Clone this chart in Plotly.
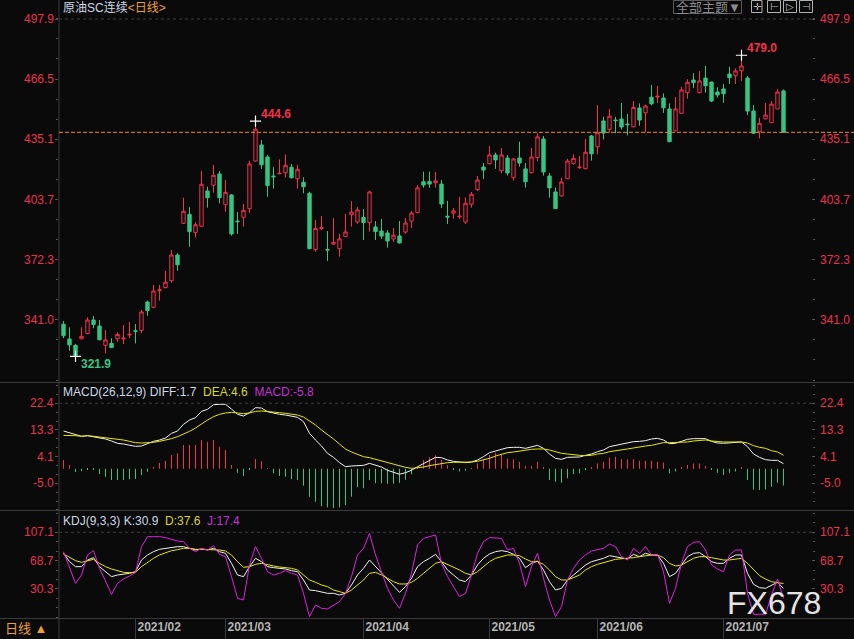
import plotly.graph_objects as go

# 原油SC连续 daily bars, one entry per trading day (Jan 2021 .. Jul 2021)
opens = [338.7, 331.0, 327.7, 331.1, 333.8, 340.9, 337.8, 327.7, 328.7, 331.1,
         331.0, 333.1, 335.3, 335.5, 350.3, 347.5, 356.2, 357.8, 361.4, 374.8,
         391.3, 396.0, 386.6, 389.8, 408.2, 411.2, 417.1, 401.0, 406.1, 392.5,
         394.5, 399.0, 423.8, 432.2, 425.9, 416.0, 417.2, 417.7, 420.6, 414.6,
         412.7, 407.0, 377.6, 388.7, 377.7, 380.5, 378.1, 384.4, 395.8, 392.0,
         394.5, 391.7, 389.4, 387.3, 386.3, 383.2, 384.7, 386.8, 392.5, 396.9,
         413.0, 413.2, 412.5, 411.8, 395.0, 396.6, 394.7, 392.0, 401.3, 408.9,
         420.7, 422.4, 427.0, 418.8, 425.4, 415.1, 425.4, 419.7, 417.7, 425.6,
         435.3, 416.0, 407.7, 405.6, 414.6, 422.6, 420.3, 419.8, 436.9, 431.3,
         444.7, 440.3, 445.2, 445.7, 443.1, 441.7, 451.5, 449.0, 457.1, 457.2,
         456.7, 451.0, 439.6, 448.7, 459.5, 466.1, 459.5, 467.1, 465.0, 459.8,
         461.4, 469.2, 468.3, 470.9, 467.1, 449.9, 439.1, 445.8, 443.8, 451.0,
         460.4]
highs = [340.4, 337.1, 328.4, 337.1, 342.3, 343.0, 340.9, 335.7, 331.4, 334.5,
         338.3, 339.9, 338.8, 346.1, 351.0, 359.2, 359.2, 366.5, 377.4, 375.7,
         404.7, 399.7, 391.9, 418.6, 410.4, 421.8, 418.6, 413.9, 406.6, 397.2,
         401.4, 424.0, 444.6, 434.8, 427.0, 420.6, 424.7, 427.3, 422.3, 421.9,
         415.3, 407.8, 393.1, 395.1, 387.3, 394.1, 385.8, 396.2, 402.9, 399.8,
         398.8, 408.3, 392.5, 393.6, 387.8, 388.9, 392.5, 394.1, 397.8, 411.3,
         418.3, 418.3, 418.1, 413.9, 403.1, 399.3, 405.2, 404.9, 407.7, 416.0,
         422.8, 431.7, 428.2, 430.6, 427.0, 425.4, 433.9, 422.8, 430.6, 438.3,
         436.9, 417.6, 410.1, 415.0, 425.0, 427.3, 426.4, 435.3, 437.4, 453.0,
         446.9, 451.0, 446.9, 454.1, 448.4, 455.1, 453.9, 453.2, 463.5, 463.0,
         459.1, 453.9, 457.2, 462.6, 466.5, 469.6, 470.8, 473.4, 465.3, 462.3,
         464.0, 473.0, 472.2, 479.0, 468.2, 453.0, 446.4, 454.1, 455.1, 461.5,
         461.1]
lows = [331.4, 324.9, 321.9, 330.8, 333.5, 336.6, 330.3, 323.5, 326.2, 329.6,
        328.4, 331.4, 328.7, 334.0, 343.1, 347.0, 351.0, 357.4, 360.4, 366.6,
        391.0, 379.1, 384.0, 389.5, 399.5, 407.3, 401.8, 397.4, 384.9, 385.8,
        389.6, 396.6, 423.5, 419.7, 405.2, 409.4, 417.0, 415.1, 414.8, 409.4,
        407.0, 377.8, 376.4, 387.8, 371.7, 380.0, 373.9, 384.1, 389.6, 391.1,
        382.6, 387.0, 382.6, 383.2, 378.6, 381.6, 380.8, 385.8, 388.9, 396.6,
        409.9, 409.9, 409.9, 399.3, 391.0, 393.7, 393.7, 391.0, 399.5, 408.2,
        414.4, 422.1, 419.7, 417.4, 416.2, 413.6, 420.9, 409.9, 417.4, 423.7,
        416.2, 404.7, 398.7, 405.2, 414.4, 421.9, 419.8, 419.6, 424.0, 427.3,
        435.1, 438.6, 438.3, 440.2, 437.2, 441.4, 442.2, 438.8, 452.9, 454.2,
        448.9, 433.6, 439.4, 448.5, 456.3, 461.9, 459.2, 459.5, 454.6, 456.9,
        454.2, 464.0, 464.0, 465.6, 447.8, 437.9, 435.6, 445.6, 443.6, 450.8,
        438.6]
closes = [332.7, 327.9, 322.3, 332.4, 340.9, 338.5, 330.6, 330.5, 326.5, 333.4,
          331.4, 333.4, 335.0, 345.1, 345.8, 356.0, 356.6, 360.6, 374.8, 369.7,
          397.6, 387.0, 390.6, 411.7, 404.7, 416.4, 404.7, 407.5, 385.8, 392.2,
          398.1, 422.3, 440.4, 421.9, 411.0, 415.6, 417.4, 421.6, 415.1, 419.5,
          410.4, 378.1, 388.7, 389.0, 377.4, 381.4, 383.2, 386.8, 397.2, 398.3,
          391.7, 407.7, 387.0, 384.7, 382.1, 385.1, 381.1, 391.5, 396.7, 409.8,
          411.3, 411.8, 413.4, 401.4, 394.6, 397.8, 395.0, 401.8, 406.5, 413.9,
          419.1, 427.0, 424.4, 427.0, 417.6, 424.9, 422.8, 413.0, 425.9, 436.4,
          418.1, 409.8, 399.0, 412.9, 423.8, 425.2, 420.6, 428.4, 427.6, 438.6,
          438.4, 447.2, 444.9, 441.6, 442.8, 451.8, 445.2, 452.5, 453.7, 457.6,
          451.6, 433.9, 451.0, 460.9, 464.9, 464.7, 465.6, 463.1, 455.1, 458.3,
          458.9, 467.3, 470.8, 473.4, 449.9, 438.3, 443.5, 447.8, 453.5, 459.8,
          438.8]

# MACD(26,12,9)
diff = [12.91, 12.34, 11.77, 11.08, 11.30, 10.97, 10.74, 10.17, 9.48, 8.68,
        8.45, 8.11, 7.65, 7.77, 8.57, 9.37, 9.82, 10.51, 12.11, 12.91,
        15.19, 16.67, 17.47, 19.64, 20.33, 21.93, 22.04, 22.04, 20.44, 18.62,
        18.04, 19.19, 20.90, 20.78, 19.53, 18.96, 18.62, 18.39, 17.93, 17.59,
        16.10, 12.11, 9.82, 7.77, 5.26, 3.89, 2.06, 0.69, 0.92, 1.15,
        1.15, 1.83, 1.26, 0.58, -0.56, -1.25, -1.90, -1.36, -0.55, 0.65,
        1.83, 2.98, 3.89, 3.78, 2.98, 2.52, 2.18, 2.07, 2.29, 2.98,
        4.12, 5.49, 6.06, 6.63, 7.20, 7.32, 7.32, 6.97, 7.54, 8.00,
        6.97, 5.03, 3.55, 3.20, 3.89, 4.01, 4.01, 4.58, 5.03, 5.83,
        6.40, 7.54, 8.00, 8.23, 8.69, 9.26, 9.37, 9.60, 10.17, 10.40,
        9.83, 8.57, 8.69, 9.37, 10.06, 10.29, 10.40, 10.29, 9.37, 8.80,
        8.69, 8.92, 9.03, 9.15, 7.54, 5.03, 3.89, 3.09, 2.86, 2.86,
        1.7]
dea = [11.42, 11.42, 11.30, 11.10, 11.30, 11.10, 10.85, 10.62, 10.40, 10.05,
       9.82, 9.37, 8.91, 8.80, 8.80, 9.03, 9.37, 9.71, 10.28, 10.97,
       11.77, 12.79, 13.93, 15.42, 16.67, 17.82, 18.62, 19.07, 19.30, 19.07,
       18.84, 19.07, 19.64, 19.76, 19.64, 19.41, 19.19, 18.96, 18.73, 18.39,
       17.70, 16.45, 14.96, 13.25, 11.77, 10.17, 8.45, 6.74, 5.71, 4.80,
       4.12, 3.77, 3.20, 2.75, 2.29, 1.72, 1.03, 0.46, 0.12, 0.25,
       0.58, 1.04, 1.38, 1.84, 2.07, 2.18, 2.18, 2.18, 2.29, 2.52,
       2.98, 3.55, 4.35, 5.03, 5.49, 5.72, 6.06, 6.40, 6.63, 6.75,
       6.75, 6.40, 5.72, 5.26, 5.03, 4.69, 4.58, 4.46, 4.58, 5.03,
       5.26, 5.83, 6.06, 6.40, 6.75, 7.09, 7.54, 7.77, 8.00, 8.35,
       8.92, 8.92, 8.92, 9.03, 9.15, 9.49, 9.60, 9.83, 9.49, 9.26,
       9.15, 9.15, 9.15, 9.15, 8.80, 7.89, 7.32, 6.97, 6.17, 5.72,
       4.6]
macd_bar = [2.97, 1.26, -1.14, -0.91, -0.34, -0.22, -1.82, -2.73, -3.88, -3.88,
            -3.88, -3.65, -3.53, -2.16, -1.02, 0.69, 2.06, 2.75, 4.69, 5.26,
            8.11, 8.11, 8.11, 9.82, 9.25, 9.82, 7.54, 6.40, 1.26, -1.36,
            -2.51, -0.22, 3.32, 2.52, 0.09, -1.59, -2.51, -2.73, -3.65, -3.88,
            -5.82, -9.58, -11.30, -12.90, -13.20, -13.50, -13.30, -12.50, -9.58, -6.40,
            -6.70, -3.90, -5.00, -5.00, -5.20, -5.20, -4.80, -3.80, -1.90, 0.60,
            2.97, 3.90, 4.60, 3.00, 1.25, -0.46, -1.00, -0.70, 0.20, 1.80,
            3.20, 4.70, 5.50, 5.00, 3.50, 3.20, 2.40, 0.90, 0.90, 2.40,
            0.50, -3.90, -4.50, -4.80, -3.30, -1.80, -1.60, -0.50, 0.50, 1.80,
            2.40, 3.80, 4.10, 3.20, 3.20, 3.20, 2.70, 2.70, 2.70, 2.40,
            2.10, -1.60, -1.00, 0.30, 1.30, 1.80, 1.80, 0.90, -0.20, -1.40,
            -2.20, -1.40, -1.00, 0.50, -3.90, -7.10, -7.30, -7.10, -6.20, -4.80,
            -5.8]

# KDJ(9,3,3)
k_line = [78.57, 67.26, 60.48, 60.48, 69.52, 72.69, 60.48, 53.69, 46.91, 49.17,
          50.07, 51.43, 53.69, 69.52, 76.31, 80.83, 84.00, 85.35, 86.26, 87.60,
          87.60, 85.35, 83.09, 84.45, 83.09, 85.35, 80.83, 78.57, 65.00, 49.17,
          46.91, 60.48, 71.78, 67.26, 60.48, 59.12, 58.21, 57.31, 55.05, 53.69,
          42.38, 28.81, 27.91, 25.65, 24.29, 24.29, 22.03, 24.29, 35.60, 49.17,
          58.21, 69.52, 60.48, 51.43, 42.38, 33.34, 25.65, 33.34, 44.64, 60.48,
          67.26, 71.78, 77.21, 67.26, 55.95, 49.17, 42.38, 40.12, 49.17, 62.74,
          71.78, 77.66, 80.83, 82.19, 80.83, 77.21, 71.78, 59.12, 65.00, 68.16,
          55.95, 40.12, 28.81, 31.08, 42.38, 49.17, 55.95, 62.74, 67.26, 69.52,
          71.78, 75.40, 74.04, 71.78, 70.88, 77.21, 74.04, 78.57, 76.31, 76.31,
          65.00, 46.91, 51.43, 62.74, 74.04, 78.57, 79.47, 74.04, 67.26, 65.00,
          65.00, 71.78, 76.31, 76.31, 51.43, 36.50, 31.98, 31.08, 34.70, 39.22,
          30.9]
d_line = [77.66, 72.69, 68.62, 66.35, 68.16, 70.43, 65.00, 60.48, 57.31, 54.60,
          52.79, 52.34, 52.79, 60.48, 66.35, 71.78, 76.31, 79.47, 82.19, 83.54,
          85.35, 85.35, 84.00, 84.00, 84.00, 84.00, 83.09, 81.73, 76.31, 67.26,
          59.57, 60.48, 63.64, 65.00, 62.74, 61.38, 60.02, 59.12, 58.21, 55.95,
          49.17, 42.38, 39.22, 35.60, 33.34, 28.81, 26.55, 24.29, 28.81, 35.60,
          42.38, 51.43, 52.79, 49.17, 44.64, 40.12, 36.96, 36.96, 39.22, 44.64,
          51.43, 58.21, 65.00, 67.26, 63.64, 59.12, 55.95, 51.43, 49.17, 53.69,
          60.48, 67.26, 71.78, 74.04, 76.31, 76.31, 75.40, 70.88, 67.26, 67.26,
          63.64, 55.95, 46.91, 42.38, 42.38, 45.55, 49.17, 55.95, 60.48, 63.64,
          66.35, 68.16, 70.43, 70.88, 71.78, 72.69, 74.04, 75.40, 76.31, 76.31,
          72.69, 65.00, 61.38, 62.74, 67.26, 71.78, 74.04, 74.04, 72.69, 70.88,
          69.52, 69.52, 70.88, 71.78, 65.00, 55.95, 48.26, 43.74, 40.12, 38.77,
          37.6]
j_line = [80.83, 60.48, 37.86, 49.17, 76.31, 82.19, 58.21, 41.02, 22.93, 37.86,
          43.74, 47.81, 52.79, 87.60, 101.18, 101.18, 101.18, 99.83, 97.11, 95.30,
          94.40, 85.35, 80.83, 85.35, 83.09, 88.97, 77.21, 74.04, 46.91, 17.51,
          15.25, 62.74, 87.60, 71.78, 53.69, 49.17, 51.43, 55.05, 51.43, 49.17,
          24.29, -7.37, 8.46, 3.94, 3.03, 8.46, 12.99, 24.29, 46.91, 76.31,
          85.35, 105.70, 76.31, 53.69, 31.08, 15.25, 3.94, 24.29, 51.43, 89.87,
          98.92, 101.18, 103.45, 65.00, 46.91, 33.34, 19.77, 24.29, 49.17, 78.57,
          94.40, 99.83, 98.92, 98.92, 83.09, 85.35, 65.00, 33.34, 60.48, 78.57,
          44.64, 15.25, -7.37, 6.20, 42.38, 58.21, 69.52, 76.31, 81.73, 83.09,
          85.35, 91.23, 87.60, 74.04, 69.52, 85.35, 78.57, 87.60, 76.31, 77.21,
          53.69, 10.72, 31.08, 65.00, 87.60, 93.49, 94.40, 83.09, 62.74, 57.31,
          53.69, 76.31, 83.09, 83.09, 24.29, -4.20, -4.20, -4.20, 22.03, 43.74,
          17.4]

# first trading day of each month (index into the bars above)
month_idx = [12, 27, 50, 71, 89, 110]
month_lbl = ['2021/02', '2021/03', '2021/04', '2021/05', '2021/06', '2021/07']

price_ticks = [497.9, 466.5, 435.1, 403.7, 372.3, 341.0]
macd_ticks = [22.4, 13.3, 4.1, -5.0]
kdj_ticks = [107.1, 68.7, 30.3]

# bars that carry a high / low tag
tag_idx = [2, 32, 113]

BG = '#0a0a0a'
RED = '#f5304d'
GREEN = '#34c584'
AXRED = '#e8334f'
GRAY = '#3a3a3a'
FONT = 'Liberation Sans, Arial, Noto Sans CJK SC'

# plot area in pixels: x 59..815, y 0..618
W, H, L, R, B = 854, 639, 59, 39, 21
PW, PH = W - L - R, H - B


def px(x):
    return (x - L) / PW


def py(y):
    return (PH - y) / PH


x = list(range(len(closes)))

fig = go.Figure()

fig.add_trace(go.Candlestick(
    x=x, open=opens, high=highs, low=lows, close=closes,
    increasing=dict(line=dict(color=RED, width=1), fillcolor=BG),
    decreasing=dict(line=dict(color=GREEN, width=1), fillcolor=GREEN),
    whiskerwidth=0, hoverinfo='skip', xaxis='x', yaxis='y'))

# high / low tags
for i in tag_idx:
    is_low = lows[i] == min(lows)
    val = lows[i] if is_low else highs[i]
    fig.add_trace(go.Scatter(
        x=[i], y=[val], mode='markers', xaxis='x', yaxis='y',
        marker=dict(symbol='cross-thin', size=8, line=dict(color='white', width=1.2)),
        hoverinfo='skip'))
    fig.add_annotation(
        x=i, y=val, xref='x', yref='y', text=f'<b>{val:.1f}</b>', showarrow=False,
        xanchor='left', yanchor='middle', xshift=3, yshift=-8 if is_low else 7,
        font=dict(family=FONT, size=12, color=GREEN if is_low else RED))

# MACD panel
fig.add_trace(go.Bar(
    x=x, y=macd_bar, width=1 / 6, xaxis='x', yaxis='y2',
    marker=dict(color=[RED if v > 0 else GREEN for v in macd_bar], line=dict(width=0)),
    hoverinfo='skip'))
fig.add_trace(go.Scatter(x=x, y=diff, mode='lines', line=dict(color='#f2f2f2', width=1),
                         xaxis='x', yaxis='y2', hoverinfo='skip'))
fig.add_trace(go.Scatter(x=x, y=dea, mode='lines', line=dict(color='#e8e800', width=1),
                         xaxis='x', yaxis='y2', hoverinfo='skip'))

# KDJ panel
fig.add_trace(go.Scatter(x=x, y=k_line, mode='lines', line=dict(color='#f2f2f2', width=1),
                         xaxis='x', yaxis='y3', hoverinfo='skip'))
fig.add_trace(go.Scatter(x=x, y=d_line, mode='lines', line=dict(color='#e8e800', width=1),
                         xaxis='x', yaxis='y3', hoverinfo='skip'))
fig.add_trace(go.Scatter(x=x, y=j_line, mode='lines', line=dict(color='#e020e0', width=1),
                         xaxis='x', yaxis='y3', hoverinfo='skip'))

# invisible copies so the right-hand tick axes get drawn
for ya, ys in (('y4', closes), ('y5', diff), ('y6', k_line)):
    fig.add_trace(go.Scatter(x=x, y=ys, mode='lines', line=dict(width=0), opacity=0,
                             xaxis='x', yaxis=ya, hoverinfo='skip'))

price_rng = [308.56, 507.81]
macd_rng = [-14.15, 29.35]
kdj_rng = [-9.2, 136.0]
dom_p = [py(382), 1]
dom_m = [py(510), py(383)]
dom_k = [0, py(511)]


def yax(dom, rng, ticks, step, side='left', over=None):
    tk = 'outside' if side == 'left' else 'inside'
    d = dict(domain=dom, range=rng, tickmode='array', tickvals=ticks, side=side,
             showticklabels=False, ticks=tk, ticklen=3, tickcolor='#555555',
             showgrid=False, zeroline=False, showline=False, fixedrange=True,
             minor=dict(ticks=tk, ticklen=2, tickcolor='#555555', tickmode='linear',
                        tick0=ticks[-1], dtick=step, showgrid=False))
    if over:
        d.pop('domain')
        d.update(overlaying=over, anchor='x')
    return d


fig.update_layout(
    width=W, height=H, margin=dict(l=L, r=R, t=0, b=B),
    paper_bgcolor=BG, plot_bgcolor=BG, showlegend=False, boxgap=0.2,
    font=dict(family=FONT, color='#c8c8c8'),
    xaxis=dict(range=[-0.75, 125.25], anchor='y3', tickmode='array',
               tickvals=month_idx, ticktext=month_lbl, ticks='',
               ticklabelposition='outside right', ticklabelshift=2,
               tickfont=dict(family=FONT, size=12, color='#b4b4b4', weight='bold'),
               showgrid=False, zeroline=False, showline=False,
               rangeslider=dict(visible=False), fixedrange=True),
    yaxis=yax(dom_p, price_rng, price_ticks, 10.4667),
    yaxis2=yax(dom_m, macd_rng, macd_ticks, 3.0467),
    yaxis3=yax(dom_k, kdj_rng, kdj_ticks, 12.8),
    yaxis4=yax(dom_p, price_rng, price_ticks, 10.4667, 'right', 'y'),
    yaxis5=yax(dom_m, macd_rng, macd_ticks, 3.0467, 'right', 'y2'),
    yaxis6=yax(dom_k, kdj_rng, kdj_ticks, 12.8, 'right', 'y3'),
)

# value labels on both sides of every panel
for yref, ticks in (('y', price_ticks), ('y2', macd_ticks), ('y3', kdj_ticks)):
    for t in ticks:
        for xx, anc in ((px(55.5), 'right'), (px(817.5), 'left')):
            fig.add_annotation(x=xx, y=t, xref='paper', yref=yref, text=f'{t:.1f}',
                               showarrow=False, xanchor=anc, yanchor='middle',
                               font=dict(family=FONT, size=12, color=AXRED))

shapes = []
full_l, full_r = px(0), px(W)
# panel separators, bottom rule, left rule
for yy in (382.5, 510.5, 618.5):
    shapes.append(dict(type='line', xref='paper', yref='paper', x0=full_l, x1=full_r,
                       y0=py(yy), y1=py(yy), line=dict(color=GRAY, width=1)))
shapes.append(dict(type='line', xref='paper', yref='paper', x0=0, x1=0,
                   y0=py(H), y1=1, line=dict(color=GRAY, width=1)))
# dashed line at top tick of each panel
for yref, top in (('y', price_ticks[0]), ('y2', macd_ticks[0]), ('y3', kdj_ticks[0])):
    shapes.append(dict(type='line', xref='paper', yref=yref, x0=0, x1=1, y0=top, y1=top,
                       line=dict(color='#3c3c3c', width=1, dash='3px,3px')))
# last price line
shapes.append(dict(type='line', xref='paper', yref='y', x0=0, x1=full_r,
                   y0=closes[-1], y1=closes[-1],
                   line=dict(color='#f08c1e', width=1, dash='4px,2px')))
# month separators in the date strip
for m in month_idx:
    shapes.append(dict(type='line', xref='x', yref='paper', x0=m, x1=m,
                       y0=py(H), y1=py(618.5), line=dict(color=GRAY, width=1)))
# toolbar button and icon boxes
shapes.append(dict(type='rect', xref='paper', yref='paper', x0=px(673.5), x1=px(741.5),
                   y0=py(13.5), y1=py(0.5), line=dict(color='#5a5a5a', width=1)))
for x0, x1 in ((751.5, 762), (767.5, 780.5), (783.5, 796.5), (799.5, 812.5)):
    shapes.append(dict(type='rect', xref='paper', yref='paper', x0=px(x0), x1=px(x1),
                       y0=py(12.5), y1=py(0.5), line=dict(color='#b0b0b0', width=1)))
fig.update_layout(shapes=shapes)

ann = dict(showarrow=False, xref='paper', yref='paper', xanchor='left', yanchor='middle')
fig.add_annotation(**ann, x=px(61), y=py(7.5),
                   text='<span style="color:#cdd8e6">原油SC连续</span>'
                        '<span style="color:#f0a030">&lt;日线&gt;</span>',
                   font=dict(family=FONT, size=12))
fig.add_annotation(**ann, x=px(61), y=py(391.5),
                   text=f'<span style="color:#cdd8e6">MACD(26,12,9) DIFF:{diff[-1]:.1f}</span>'
                        f'&nbsp;&nbsp;<span style="color:#d8d820">DEA:{dea[-1]:.1f}</span>'
                        f'&nbsp;&nbsp;<span style="color:#c530d8">MACD:{macd_bar[-1]:.1f}</span>',
                   font=dict(family=FONT, size=12))
fig.add_annotation(**ann, x=px(61), y=py(520.5),
                   text=f'<span style="color:#cdd8e6">KDJ(9,3,3) K:{k_line[-1]:.1f}</span>'
                        f'&nbsp;&nbsp;<span style="color:#d8d820">D:{d_line[-1]:.1f}</span>'
                        f'&nbsp;&nbsp;<span style="color:#c530d8">J:{j_line[-1]:.1f}</span>',
                   font=dict(family=FONT, size=12))
fig.add_annotation(**ann, x=px(3), y=py(628.5), text='日线 ▲',
                   font=dict(family=FONT, size=13, color='#f0a030'))

mid = dict(showarrow=False, xref='paper', yref='paper', xanchor='center', yanchor='middle')
fig.add_annotation(**mid, x=px(708), y=py(7), text='全部主题▼',
                   font=dict(family=FONT, size=13, color='#8c8c8c'))
for cx, g in ((757, '✛'), (774, '⊢'), (790, '▷'), (806, '⊣')):
    fig.add_annotation(**mid, x=px(cx), y=py(6.5), text=g,
                       font=dict(family='DejaVu Sans', size=10, color='#c0c0c0'))
fig.add_annotation(**mid, x=px(774), y=py(602.5), text='FX678',
                   font=dict(family=FONT, size=32, color='#e4e4e4'))

# drop the default page margin so the figure sits at the window corner
fig.write_html('out.html', config={'displayModeBar': False},
               post_script="document.body.style.margin='0';")
